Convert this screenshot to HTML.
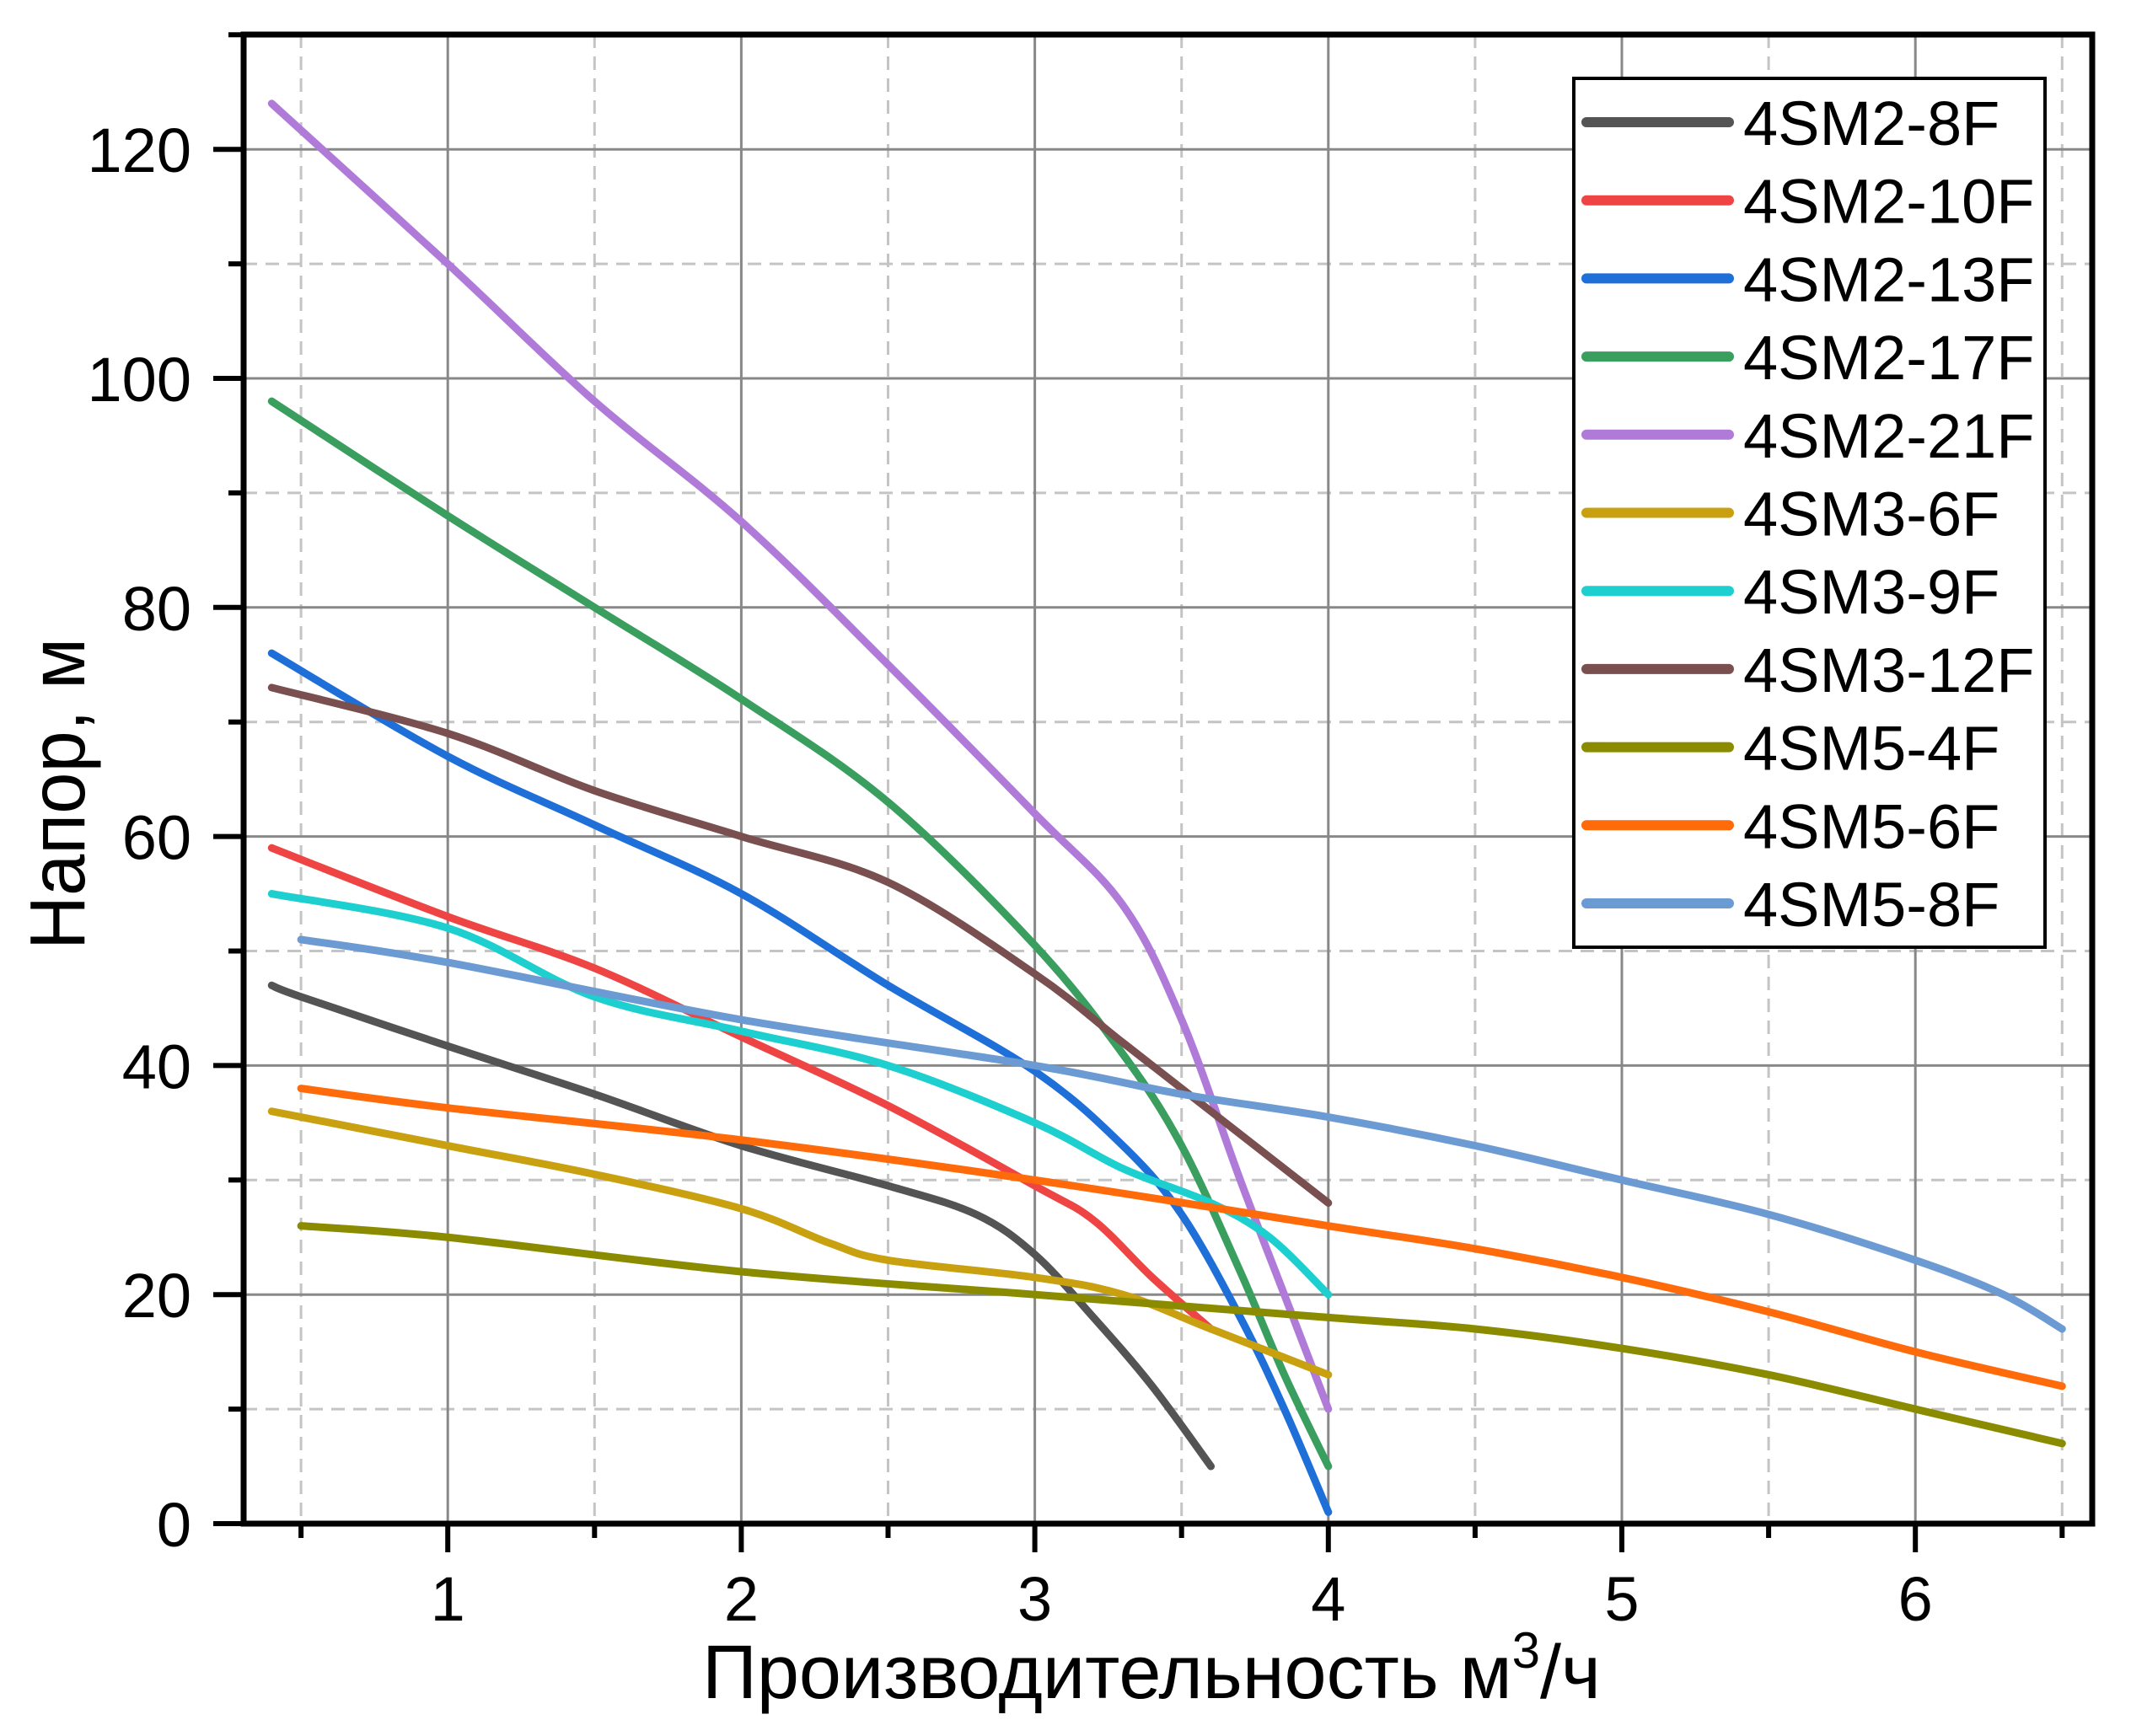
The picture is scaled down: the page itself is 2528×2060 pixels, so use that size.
<!DOCTYPE html>
<html><head><meta charset="utf-8"><style>
html,body{margin:0;padding:0;background:#fff;}
svg{display:block;font-family:"Liberation Sans",sans-serif;}
</style></head><body>
<svg id="chart" width="2528" height="2060" viewBox="0 0 2528 2060" xmlns="http://www.w3.org/2000/svg">
<g id="grid"></g>
<g id="series"></g>
<g id="axes"></g>
<text transform="translate(100,942) rotate(-90)" text-anchor="middle" font-size="93" textLength="370" lengthAdjust="spacingAndGlyphs">Напор, м</text>
<text x="1366" y="2015" text-anchor="middle" font-size="90">Производительность м<tspan font-size="60" dy="-36">3</tspan><tspan dy="36">/ч</tspan></text>
<g id="legend"></g>
</svg>
<script>
const names = ["4SM2-8F","4SM2-10F","4SM2-13F","4SM2-17F","4SM2-21F","4SM3-6F","4SM3-9F","4SM3-12F","4SM5-4F","4SM5-6F","4SM5-8F"];
const colors = ["#545454","#ef4444","#1f6fd8","#3a9e5f","#b07bd8","#c9a010","#1ecfcf","#7a4f4f","#8b8b00","#ff6a0a","#6b9bd2"];
const s1x = [0.4,0.5,1,1.5,2,2.5,2.8,3,3.2,3.4,3.6];
const s1y = [47,46,41.7,37.5,33,29.5,27,23.5,18,12,5];
const s2x = [0.4,1,1.5,2,2.5,3,3.2,3.4,3.6];
const s2y = [59,53,48.5,42.5,36.5,29.5,26.5,21.5,17];
const s3x = [0.4,1,1.5,2,2.5,3,3.3,3.5,3.7,3.85,4];
const s3y = [76,67,61,55,47,39.5,33,27,18,10,1];
const s4x = [0.4,1,1.5,2,2.5,3,3.3,3.5,3.7,3.85,4];
const s4y = [98,88,80,72,63,50.5,41,33,22,13,5];
const s5x = [0.4,1,1.5,2,2.5,3,3.3,3.5,3.7,3.85,4];
const s5y = [124,110,98,87.5,75,62,54,44,30,20,10];
const s6x = [0.4,1,1.5,2,2.3,2.5,3,3.3,3.6,4];
const s6y = [36,33,30.5,27.5,24.5,23,21.5,20,17,13];
const s7x = [0.4,1,1.5,2,2.5,3,3.3,3.6,3.8,4];
const s7y = [55,52,46,43,40,35,31,28,25,20];
const s8x = [0.4,1,1.5,2,2.5,3,3.3,3.6,3.8,4];
const s8y = [73,69,64,60,56,48,42,36,32,28];
const s9x = [0.5,1,2,3,4,4.5,5,5.5,6,6.5];
const s9y = [26,25,22,20,18,17,15.3,13,10,7];
const s10x = [0.5,1,2,3,4,4.5,5,5.5,6,6.5];
const s10y = [38,36.3,33.5,30,26,24,21.5,18.5,15,12];
const s11x = [0.5,1,2,3,3.5,4,4.5,5,5.5,6,6.3,6.5];
const s11y = [51,49,44,40,37.5,35.5,33,30,27,23,20,17];
const xMajor = [1,2,3,4,5,6];
const xMinor = [0.5,1.5,2.5,3.5,4.5,5.5,6.5];
const yMajor = [0,20,40,60,80,100,120];
const yMinor = [10,30,50,70,90,110,130];
const xs=[s1x,s2x,s3x,s4x,s5x,s6x,s7x,s8x,s9x,s10x,s11x];
const ys=[s1y,s2y,s3y,s4y,s5y,s6y,s7y,s8y,s9y,s10y,s11y];

const NS="http://www.w3.org/2000/svg";
const L=289,R=2482,T=41,B=1808;
function X(v){return 183+v*348.2;}
function Y(v){return 1808-v*13.59;}
function mk(tag,parent,attrs){const e=document.createElementNS(NS,tag);for(const k in attrs)e.setAttribute(k,attrs[k]);parent.appendChild(e);return e;}
const grid=document.getElementById('grid'),axes=document.getElementById('axes'),ser=document.getElementById('series'),leg=document.getElementById('legend');
xMinor.forEach(v=>{const e=mk('line',grid,{x1:X(v),x2:X(v),y1:T,y2:B,stroke:'#c4c4c4','stroke-width':3,'stroke-dasharray':'16 10'});

});
yMinor.forEach(v=>{const e=mk('line',grid,{x1:L,x2:R,y1:Y(v),y2:Y(v),stroke:'#c4c4c4','stroke-width':3,'stroke-dasharray':'16 10'});

});
xMajor.forEach(v=>{const e=mk('line',grid,{x1:X(v),x2:X(v),y1:T,y2:B,stroke:'#888','stroke-width':3});

});
yMajor.forEach(v=>{const e=mk('line',grid,{x1:L,x2:R,y1:Y(v),y2:Y(v),stroke:'#888','stroke-width':3});

});

function pathD(px,py){
 const p=px.map((x,i)=>[X(x),Y(py[i])]);
 let d='M'+p[0][0]+','+p[0][1];
 for(let i=0;i<p.length-1;i++){
  const p0=p[i-1]||p[i],p1=p[i],p2=p[i+1],p3=p[i+2]||p[i+1];
  const c1=[p1[0]+(p2[0]-p0[0])/6,p1[1]+(p2[1]-p0[1])/6];
  const c2=[p2[0]-(p3[0]-p1[0])/6,p2[1]-(p3[1]-p1[1])/6];
  d+=' C'+c1[0]+','+c1[1]+' '+c2[0]+','+c2[1]+' '+p2[0]+','+p2[1];
 }
 return d;
}
names.forEach((n,i)=>{
 const e=mk('path',ser,{d:pathD(xs[i],ys[i]),fill:'none',stroke:colors[i],'stroke-width':9,'stroke-linecap':'round','stroke-linejoin':'round'});
 
 
});

mk('rect',axes,{x:L,y:T,width:R-L,height:B-T,fill:'none',stroke:'#000','stroke-width':7});
xMajor.forEach(v=>{mk('line',axes,{x1:X(v),x2:X(v),y1:B,y2:B+34,stroke:'#000','stroke-width':6});
 const t=mk('text',axes,{x:X(v),y:1923,'text-anchor':'middle','font-size':74});t.textContent=v;
 
 });
xMinor.forEach(v=>mk('line',axes,{x1:X(v),x2:X(v),y1:B,y2:B+17,stroke:'#000','stroke-width':6}));
yMajor.forEach(v=>{mk('line',axes,{x1:L-36,x2:L,y1:Y(v),y2:Y(v),stroke:'#000','stroke-width':6});
 const t=mk('text',axes,{x:227,y:Y(v)+27,'text-anchor':'end','font-size':74});t.textContent=v;
 
 });
yMinor.forEach(v=>mk('line',axes,{x1:L-18,x2:L,y1:Y(v),y2:Y(v),stroke:'#000','stroke-width':6}));

const box=mk('rect',leg,{x:1867,y:93,width:559,height:1031,fill:'#fff',stroke:'#000','stroke-width':4});


names.forEach((n,i)=>{
 const y=145+i*92.7;
 const g=mk('g',leg,{});
 
 
 mk('line',g,{x1:1882,x2:2051,y1:y,y2:y,stroke:colors[i],'stroke-width':12,'stroke-linecap':'round'});
 const t=mk('text',g,{x:2068,y:y+27,'font-size':74});t.textContent=n;
});
</script>
</body></html>
